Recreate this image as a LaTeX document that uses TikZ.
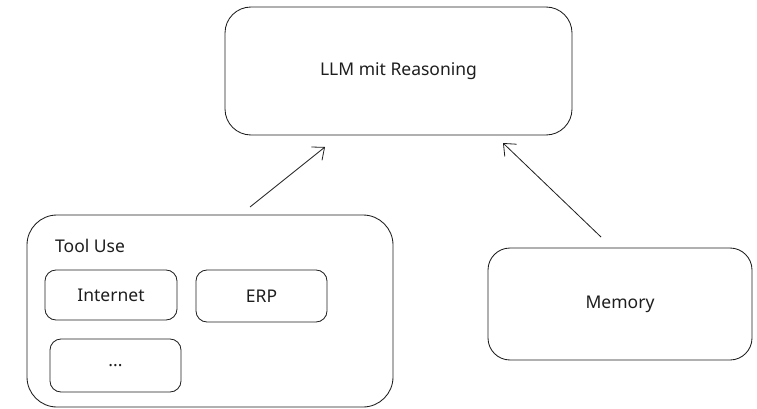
\documentclass[tikz,border=0pt]{standalone}
\usepackage{fontspec}
\setmainfont{Noto Sans}
\usetikzlibrary{arrows.meta}
\definecolor{ink}{HTML}{1E1E1E}
\tikzset{
  txt/.style={font=\fontsize{17.5}{21}\selectfont, text=ink},
  box/.style={draw=ink, line width=0.85pt, rounded corners=#1, inner sep=0pt, txt},
  box/.default=12pt,
  conn/.style={draw=ink, line width=0.8pt, -{Straight Barb[length=10pt,width=17pt,line width=0.8pt]}},
}
\begin{document}
\begin{tikzpicture}[x=1pt,y=-1pt]
\useasboundingbox (0,0) rectangle (757,409);
\node[box=26pt, minimum width=347pt, minimum height=128pt] (llm) at (398.5,71) {LLM mit Reasoning};
\node[box=30pt, minimum width=366pt, minimum height=192pt] (tool) at (210,311) {};
\node[anchor=west, txt, inner sep=0pt] (tooltitle) at (55,246) {Tool Use};
\node[box=11pt, minimum width=132pt, minimum height=50pt] (internet) at (111,295) {Internet};
\node[box=11pt, minimum width=131pt, minimum height=52pt] (erp) at (261.5,296) {ERP};
\node[box=11pt, minimum width=131pt, minimum height=53pt] (dots) at (115.5,365.5) {...};
\node[box=22pt, minimum width=264pt, minimum height=112pt] (memory) at (620,304) {Memory};
\coordinate (a1s) at (250,207);
\coordinate (a1e) at (325,147);
\coordinate (a2s) at (601,237);
\coordinate (a2e) at (503,143);
\draw[conn] (a1s) -- (a1e);
\draw[conn] (a2s) -- (a2e);
\end{tikzpicture}
\end{document}
